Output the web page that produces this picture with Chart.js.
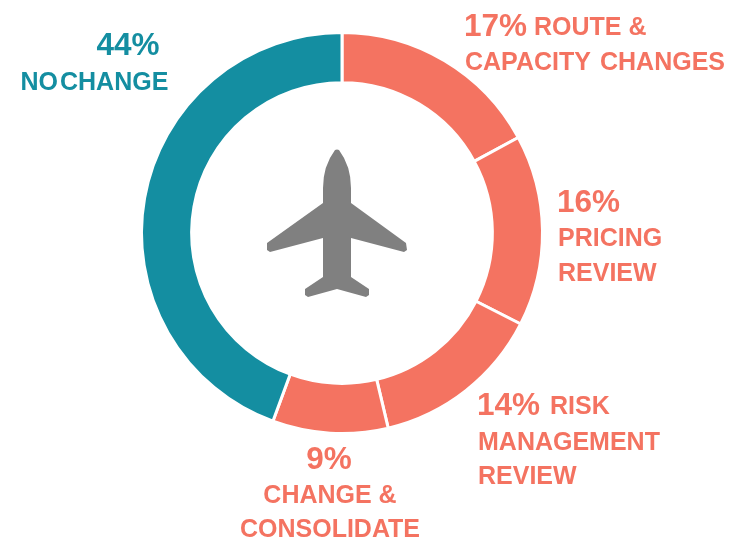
<!DOCTYPE html>
<html>
<head>
<meta charset="utf-8">
<style>
  html, body { margin: 0; padding: 0; background: #fff; }
  #wrap { position: relative; width: 729px; height: 542px; }
</style>
<script src="https://cdn.jsdelivr.net/npm/chart.js@4"></script>
</head>
<body>
<div id="wrap"><canvas id="donut" width="729" height="542"></canvas></div>
<script>
const categories = ['Route & capacity changes', 'Pricing review', 'Risk management review', 'Change & consolidate', 'No change'];
// slice sizes, the printed labels are rounded a bit differently
const shares = [17.1, 15.4, 13.8, 9.3, 44.4];
const sliceColors = ['#f47361', '#f47361', '#f47361', '#f47361', '#148ea1'];

const TEAL = '#148ea1';
const CORAL = '#f47361';
const FONT = '"Liberation Sans", Arial, sans-serif';
const PCT = 31.5, TXT = 25;

// [text, x, y, size, colour, align]
const labels = [
  ['17%', 464, 27, PCT, CORAL, 'left'],
  ['ROUTE &', 534, 28, TXT, CORAL, 'left'],
  ['CAPACITY', 465, 63, TXT, CORAL, 'left'],
  ['CHANGES', 600, 63, TXT, CORAL, 'left'],
  ['16%', 557, 203, PCT, CORAL, 'left'],
  ['PRICING', 558, 239, TXT, CORAL, 'left'],
  ['REVIEW', 558, 274, TXT, CORAL, 'left'],
  ['14%', 477, 406, PCT, CORAL, 'left'],
  ['RISK', 550, 407, TXT, CORAL, 'left'],
  ['MANAGEMENT', 478, 443, TXT, CORAL, 'left'],
  ['REVIEW', 478, 477, TXT, CORAL, 'left'],
  ['9%', 329, 460, PCT, CORAL, 'center'],
  ['CHANGE &', 330, 496, TXT, CORAL, 'center'],
  ['CONSOLIDATE', 330, 530, TXT, CORAL, 'center'],
  ['44%', 128, 46, PCT, TEAL, 'center'],
  ['NO', 20.5, 83, TXT, TEAL, 'left'],
  ['CHANGE', 60, 83, TXT, TEAL, 'left']
];

// airplane silhouette, offsets from the hole centre
const planePlugin = {
  id: 'plane',
  afterDraw(chart) {
    const arc = chart.getDatasetMeta(0).data[0];
    const ctx = chart.ctx;
    ctx.save();
    ctx.translate(arc.x - 5, arc.y - 1);
    ctx.fillStyle = '#808080';
    ctx.beginPath();
    ctx.moveTo(-2, -82);
    ctx.quadraticCurveTo(0, -83, 2, -82);
    ctx.quadraticCurveTo(14, -66, 14, -44);
    ctx.lineTo(14, -29);
    ctx.lineTo(69, 11);
    ctx.lineTo(70, 18);
    ctx.lineTo(67, 20);
    ctx.lineTo(14, 6);
    ctx.lineTo(14, 45);
    ctx.lineTo(32, 57);
    ctx.lineTo(32, 63);
    ctx.lineTo(29, 65);
    ctx.lineTo(0, 57);
    ctx.lineTo(-29, 65);
    ctx.lineTo(-32, 63);
    ctx.lineTo(-32, 57);
    ctx.lineTo(-14, 45);
    ctx.lineTo(-14, 6);
    ctx.lineTo(-67, 20);
    ctx.lineTo(-70, 18);
    ctx.lineTo(-70, 11);
    ctx.lineTo(-14, -29);
    ctx.lineTo(-14, -44);
    ctx.quadraticCurveTo(-14, -66, -2, -82);
    ctx.closePath();
    ctx.fill();
    ctx.restore();
  }
};

const textPlugin = {
  id: 'sideLabels',
  afterDraw(chart) {
    const ctx = chart.ctx;
    ctx.save();
    ctx.textBaseline = 'middle';
    labels.forEach(([text, x, y, size, color, align]) => {
      ctx.font = `bold ${size}px ${FONT}`;
      ctx.fillStyle = color;
      ctx.textAlign = align;
      ctx.fillText(text, x, y);
    });
    ctx.restore();
  }
};

new Chart(document.getElementById('donut'), {
  type: 'doughnut',
  data: {
    labels: categories,
    datasets: [{
      data: shares,
      backgroundColor: sliceColors,
      borderColor: '#ffffff',
      borderWidth: 3
    }]
  },
  options: {
    responsive: false,
    animation: false,
    cutout: '75%',
    layout: { padding: { left: 140, right: 185, top: 31, bottom: 107 } },
    plugins: { legend: { display: false }, tooltip: { enabled: false } }
  },
  plugins: [planePlugin, textPlugin]
});
</script>
</body>
</html>
